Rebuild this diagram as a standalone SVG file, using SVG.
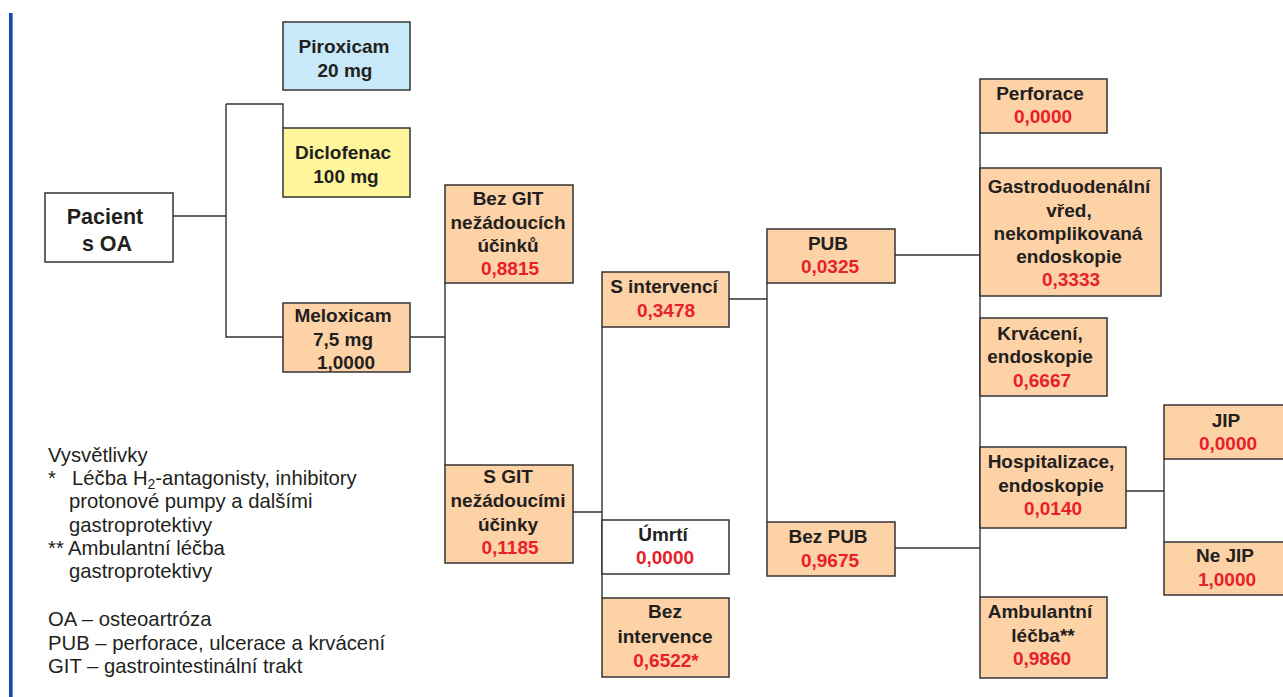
<svg xmlns="http://www.w3.org/2000/svg" width="1283" height="697" viewBox="0 0 1283 697">
<style>
.b{stroke:#333;stroke-width:1.5}
.w{fill:#fff}
.o{fill:#fdd2a6}
.bl{fill:#c7e9f9}
.y{fill:#fff69c}
.t{font-family:"Liberation Sans",Arial,sans-serif;font-weight:bold;font-size:19px;fill:#231f20;text-anchor:middle}
.big{font-size:21.5px}
.r{fill:#e8202a}
.l{font-family:"Liberation Sans",Arial,sans-serif;font-size:20.3px;fill:#231f20}
.c{fill:none;stroke:#333;stroke-width:1.4}
</style>
<rect width="1283" height="697" fill="#fff"/>
<rect x="9" y="13" width="3.6" height="684" fill="#0b4ea2"/>
<g id="connectors">
<path class="c" d="M173 216H226M226 104V337H283M226 104H283V128"/>
<path class="c" d="M410 337H445M445 283V465"/>
<path class="c" d="M573 512H602M602 327V598"/>
<path class="c" d="M729 299H767M767 283V522"/>
<path class="c" d="M895 255H980M895 548H980M980 133V597"/>
<path class="c" d="M1126 491H1164M1164 459V542"/>
</g>
<g id="piroxicam"><rect class="b bl" x="283" y="22" width="127" height="68"/><text class="t" x="344" y="53">Piroxicam</text><text class="t" x="345" y="77">20 mg</text></g>
<g id="diclofenac"><rect class="b y" x="283" y="128" width="127" height="69"/><text class="t" x="343" y="159">Diclofenac</text><text class="t" x="346" y="183">100 mg</text></g>
<g id="pacient"><rect class="b w" x="45" y="193" width="128" height="69"/><text class="t big" x="105" y="224">Pacient</text><text class="t big" x="107" y="251">s OA</text></g>
<g id="meloxicam"><rect class="b o" x="283" y="303" width="127" height="69"/><text class="t" x="343" y="322">Meloxicam</text><text class="t" x="343" y="346">7,5 mg</text><text class="t" x="346" y="369">1,0000</text></g>
<g id="bezgit"><rect class="b o" x="445" y="185" width="128" height="98"/><text class="t" x="508" y="205">Bez GIT</text><text class="t" x="508" y="229">nežádoucích</text><text class="t" x="508" y="252">účinků</text><text class="t r" x="510" y="275">0,8815</text></g>
<g id="sgit"><rect class="b o" x="445" y="465" width="128" height="98"/><text class="t" x="508" y="483">S GIT</text><text class="t" x="508" y="507">nežádoucími</text><text class="t" x="508" y="531">účinky</text><text class="t r" x="510" y="554">0,1185</text></g>
<g id="sintervenci"><rect class="b o" x="602" y="272" width="127" height="55"/><text class="t" x="664" y="293">S intervencí</text><text class="t r" x="666" y="317">0,3478</text></g>
<g id="umrti"><rect class="b w" x="602" y="520" width="127" height="54"/><text class="t" x="663" y="541">Úmrtí</text><text class="t r" x="665" y="564">0,0000</text></g>
<g id="bezintervence"><rect class="b o" x="602" y="598" width="127" height="79"/><text class="t" x="665" y="618">Bez</text><text class="t" x="665" y="643">intervence</text><text class="t r" x="666" y="667">0,6522*</text></g>
<g id="pub"><rect class="b o" x="767" y="229" width="128" height="54"/><text class="t" x="828" y="250">PUB</text><text class="t r" x="830" y="273">0,0325</text></g>
<g id="bezpub"><rect class="b o" x="767" y="522" width="128" height="54"/><text class="t" x="828" y="543">Bez PUB</text><text class="t r" x="830" y="567">0,9675</text></g>
<g id="perforace"><rect class="b o" x="980" y="79" width="127" height="54"/><text class="t" x="1040" y="100">Perforace</text><text class="t r" x="1043" y="123">0,0000</text></g>
<g id="gastro"><rect class="b o" x="980" y="168" width="181" height="128"/><text class="t" x="1069" y="193">Gastroduodenální</text><text class="t" x="1069" y="217">vřed,</text><text class="t" x="1068" y="240">nekomplikovaná</text><text class="t" x="1069" y="263">endoskopie</text><text class="t r" x="1071" y="286">0,3333</text></g>
<g id="krvaceni"><rect class="b o" x="980" y="318" width="127" height="78"/><text class="t" x="1040" y="340">Krvácení,</text><text class="t" x="1040" y="363">endoskopie</text><text class="t r" x="1042" y="387">0,6667</text></g>
<g id="hospitalizace"><rect class="b o" x="980" y="447" width="146" height="81"/><text class="t" x="1051" y="468">Hospitalizace,</text><text class="t" x="1051" y="492">endoskopie</text><text class="t r" x="1053" y="515">0,0140</text></g>
<g id="ambulantni"><rect class="b o" x="980" y="597" width="127" height="81"/><text class="t" x="1040" y="618">Ambulantní</text><text class="t" x="1043" y="642">léčba**</text><text class="t r" x="1042" y="665">0,9860</text></g>
<g id="jip"><rect class="b o" x="1164" y="405" width="130" height="54"/><text class="t" x="1226" y="427">JIP</text><text class="t r" x="1228" y="450">0,0000</text></g>
<g id="nejip"><rect class="b o" x="1164" y="542" width="130" height="53"/><text class="t" x="1225" y="562">Ne JIP</text><text class="t r" x="1227" y="586">1,0000</text></g>
<g id="legend" class="l">
<text x="48" y="462">Vysvětlivky</text>
<text x="48" y="485">*</text>
<text x="72" y="485">Léčba H<tspan style="font-size:14px" dy="4">2</tspan><tspan dy="-4">-antagonisty, inhibitory</tspan></text>
<text x="69" y="508">protonové pumpy a dalšími</text>
<text x="69" y="532">gastroprotektivy</text>
<text x="48" y="555">**</text>
<text x="68" y="555">Ambulantní léčba</text>
<text x="69" y="578">gastroprotektivy</text>
<text x="48" y="626">OA – osteoartróza</text>
<text x="48" y="650">PUB – perforace, ulcerace a krvácení</text>
<text x="48" y="673">GIT – gastrointestinální trakt</text>
</g>
</svg>
